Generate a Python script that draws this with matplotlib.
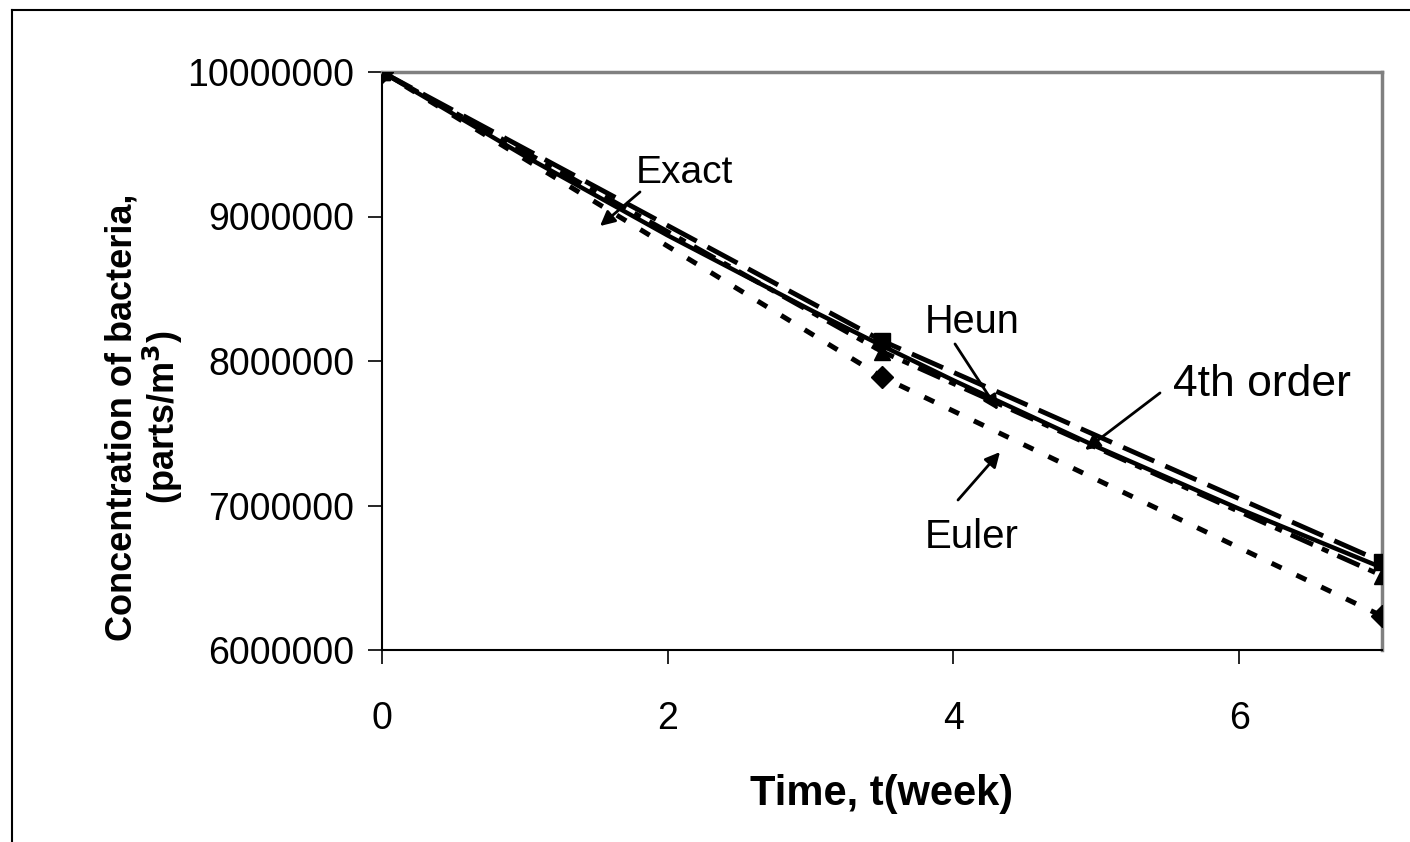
import matplotlib
matplotlib.use("Agg")
import matplotlib.pyplot as plt
from matplotlib.lines import Line2D

plt.rcParams['font.family'] = ['Liberation Sans', 'DejaVu Sans']

t_steps = [0, 3.5, 7]
euler = [10000000, 7890000, 6235000]
heun = [10000000, 8140000, 6610000]
rk4 = [10000000, 8065000, 6515000]
t_exact = [0, 1, 2, 3, 3.5, 4, 5, 6, 7]
exact = [10000000, 9418000, 8869000, 8353000, 8106000, 7866000, 7408000, 6977000, 6570000]

xticks = [0, 2, 4, 6]
yticks = [6000000, 7000000, 8000000, 9000000, 10000000]

fig = plt.figure(figsize=(14.1, 8.42), dpi=100)
ax = fig.add_axes([382/1410, 1-650/842, 1000/1410, 578/842])

ax.plot(t_exact, exact, color='black', lw=3.2, solid_capstyle='butt', zorder=3)
ax.plot(t_steps, euler, color='black', lw=3.6, linestyle=(0, (2.2, 3.3)),
        marker='D', markersize=11, zorder=4)
ax.plot(t_steps, rk4, color='black', lw=3.5, linestyle=(0, (5, 2, 1.5, 2)),
        marker='^', markersize=12, zorder=4)
ax.plot(t_steps, heun, color='black', lw=3.5, linestyle=(0, (7, 2.5)),
        marker='s', markersize=11, zorder=5)

ax.set_xlim(0, 7)
ax.set_ylim(6000000, 10000000)
ax.set_xticks(xticks)
ax.set_yticks(yticks)
ax.set_xticklabels([str(v) for v in xticks])
ax.set_yticklabels([str(v) for v in yticks])
ax.tick_params(axis='both', direction='out', length=10, width=1.2, labelsize=27, colors='black')
ax.tick_params(axis='x', pad=27)
ax.tick_params(axis='y', pad=10)

for s in ['left', 'bottom']:
    ax.spines[s].set_color('black')
    ax.spines[s].set_linewidth(1.5)
for s in ['top', 'right']:
    ax.spines[s].set_color('#808080')
    ax.spines[s].set_linewidth(2.5)

ax.set_xlabel('Time, t(week)', fontsize=30, fontweight='bold', labelpad=26)
fig.text(145/1410, 1-417/842, 'Concentration of bacteria,\n(parts/m$^\\mathbf{3}$)',
         rotation=90, ha='center', va='center', fontsize=26, fontweight='bold',
         multialignment='center', linespacing=1.05)

arrowprops = dict(arrowstyle='-|>', color='black', lw=2, mutation_scale=22, shrinkA=0, shrinkB=0)

labels = [
    ('Exact', 2.12, 9300000, 28, (1.806, 9170000), (1.526, 8934000)),
    ('Heun', 4.13, 8270000, 28.5, (4.011, 8118000), (4.312, 7661000)),
    ('4th order', 6.16, 7840000, 32, (5.446, 7779000), (4.921, 7384000)),
    ('Euler', 4.13, 6785000, 29, (4.032, 7038000), (4.326, 7370000)),
]
for txt, tx, ty, fs, start, end in labels:
    ax.text(tx, ty, txt, fontsize=fs, ha='center', va='center')
    ax.annotate('', xy=end, xytext=start, arrowprops=arrowprops)

fig.add_artist(Line2D([12/1410, 12/1410], [0, 1-10/842], transform=fig.transFigure,
                      color='black', lw=1.5))
fig.add_artist(Line2D([12/1410, 1], [1-10/842, 1-10/842], transform=fig.transFigure,
                      color='black', lw=1.5))

fig.savefig('out.png', dpi=100)
